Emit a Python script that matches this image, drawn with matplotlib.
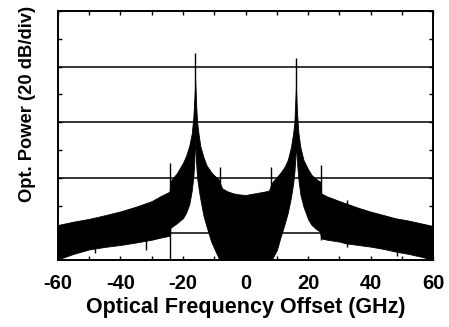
import numpy as np
import matplotlib
matplotlib.use("Agg")
import matplotlib.pyplot as plt
from matplotlib.ticker import MultipleLocator

plt.rcParams['font.family'] = ['Liberation Sans', 'DejaVu Sans']
plt.rcParams['font.weight'] = 'bold'
plt.rcParams['axes.unicode_minus'] = False

# envelope of the modulated spectrum (GHz, dB)
freq = [-60, -55, -50, -45, -40, -35, -30, -27, -24.3, -24.0, -22, -20, -19, -18,
        -17.2, -16.7, -16.4, -16.1, -15.8, -15.5, -15.0, -14.5, -13.5, -12.5, -11,
        -10, -8.6, -8.0, -7.5, -6, -4, -2, 0, 2, 4, 6, 7.5, 8.0, 8.6, 10, 11, 12.5,
        13.5, 14.5, 15.2, 15.6, 15.9, 16.1, 16.4, 16.9, 17.5, 18.5, 20, 21.1, 22.5,
        23.8, 24.1, 26, 30, 32, 36, 40, 44, 48, 52, 56, 60]
upper = [3.0, 4.2, 5.2, 6.5, 7.9, 9.6, 11.6, 13.5, 15.0, 18.8, 21.6, 25.4, 28.0, 31.5,
         36.0, 42.0, 48.0, 55.0, 46.0, 40.0, 35.5, 31.5, 27.5, 24.5, 22.0,
         20.8, 19.4, 17.5, 16.2, 15.2, 14.4, 14.0, 13.8, 14.2, 14.6, 15.0, 15.4, 17.0, 18.5, 20.3, 21.6, 24.0,
         26.5, 31.0, 36.0, 40.0, 48.0, 53.0, 44.0, 36.0, 31.0, 26.4, 23.0, 21.0, 19.6,
         18.6, 14.4, 13.3, 11.6, 10.8, 9.2, 7.8, 6.6, 5.4, 4.6, 3.6, 2.6]
lower = [-9.4, -7.4, -5.8, -4.9, -4.2, -3.3, -2.3, -1.5, -0.9, 2.0, 3.6, 5.5, 7.5, 10.5,
         15.5, 20.5, 26.0, 34.0, 25.0, 20.0, 16.0, 12.5, 6.5, 2.5, -3.0,
         -5.5, -9.0, -12, -12, -12, -12, -12, -12, -12, -12, -12, -12, -12, -9.0, -6.0, -2.0, 3.5,
         7.5, 13.0, 18.0, 22.0, 27.0, 33.0, 26.0, 19.2, 14.0, 9.6, 5.0, 3.0, 1.6,
         0.6, -1.8, -2.3, -3.0, -3.6, -4.2, -4.8, -5.6, -6.6, -7.4, -8.4, -9.6]

# narrow spectral lines / spikes
spike_freq = [-48, -32, -24.1, -16.1, -8.1, 8.05, 16.1, 24.1, 32.3, 48.3]
spike_bottom = [-7.2, -6.0, -9.6, 40, -9.6, -9.6, 40, -2.4, -5.0, -8.2]
spike_top = [-5.0, -2.4, 25.2, 64.9, 24.0, 24.0, 63.0, 24.6, 12.0, 5.0]

grid_levels = [0, 20, 40, 60]
xticks = [-60, -40, -20, 0, 20, 40, 60]

fig = plt.figure(figsize=(4.49, 3.27), dpi=100)
ax = fig.add_axes([0.129, 0.205, 0.836, 0.761])

for g in grid_levels:
    ax.axhline(g, color='black', lw=1.1, zorder=1)

ax.fill_between(freq, lower, upper, color='black', lw=0.6, zorder=2)
ax.vlines(spike_freq, spike_bottom, spike_top, color='black', lw=1.0, zorder=3)

ax.set_xlim(-60, 60)
ax.set_ylim(-9.6, 80)
ax.set_xticks(xticks)
ax.xaxis.set_minor_locator(MultipleLocator(10))
ax.yaxis.set_major_locator(MultipleLocator(10))
ax.set_yticklabels([])
ax.tick_params(which='both', direction='in', top=True, right=True, length=3, width=1)
ax.tick_params(axis='x', labelsize=14.5, pad=10)
for lab in ax.get_xticklabels():
    lab.set_fontweight('bold')
for s in ax.spines.values():
    s.set_linewidth(1.4)

ax.set_xlabel('Optical Frequency Offset (GHz)', fontsize=15.5, fontweight='bold', labelpad=3)
ax.set_ylabel('Opt. Power (20 dB/div)', fontsize=13.2, fontweight='bold')
ax.yaxis.set_label_coords(-0.058, 0.628)

plt.savefig('out.png', dpi=100)
